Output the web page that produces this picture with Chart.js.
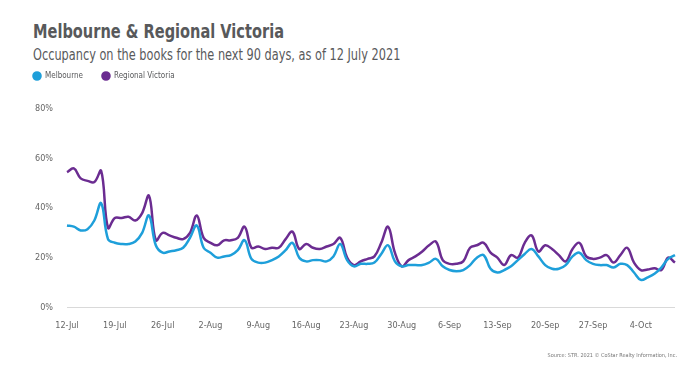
<!DOCTYPE html>
<html>
<head>
<meta charset="utf-8">
<script src="https://cdn.jsdelivr.net/npm/chart.js@4"></script>
<style>
  html, body { margin: 0; padding: 0; background: #fff; }
  body { width: 700px; height: 367px; position: relative; overflow: hidden;
         font-family: 'DejaVu Sans Condensed', sans-serif; color: #58595b; }
  #title { position: absolute; left: 33px; top: 19px; font-size: 20px; font-weight: bold;
           transform: scaleX(0.81); transform-origin: left top; white-space: nowrap; }
  #subtitle { position: absolute; left: 33px; top: 46px; font-size: 15px;
              transform: scaleX(0.84); transform-origin: left top; white-space: nowrap; }
  #source { position: absolute; right: 23px; top: 352px; font-size: 5.5px; color: #777; white-space: nowrap; }
  #wrap { position: absolute; left: 0; top: 0; width: 700px; height: 367px; }
</style>
</head>
<body>
<div id="title">Melbourne &amp; Regional Victoria</div>
<div id="subtitle">Occupancy on the books for the next 90 days, as of 12 July 2021</div>
<div id="wrap"><canvas id="occChart" width="700" height="367"></canvas></div>
<div id="source">Source: STR. 2021 © CoStar Realty Information, Inc.</div>
<script>
  const startDate = new Date(2021, 6, 12);
  const dayCount = 90;
  const tickLabels = ['12-Jul', '19-Jul', '26-Jul', '2-Aug', '9-Aug', '16-Aug', '23-Aug',
    '30-Aug', '6-Sep', '13-Sep', '20-Sep', '27-Sep', '4-Oct'];
  const yTicks = [0, 20, 40, 60, 80];

  const melbourne = [
    33, 32.5, 31, 31.5, 35, 42, 27.5, 26, 25.5, 25.5, 26.5, 30, 37, 25,
    22, 22.5, 23, 24, 28, 33, 24, 22, 20, 20.5, 21, 23, 27, 19.5,
    18, 18, 19, 20.5, 23, 26, 20, 18.5, 19, 19, 18.5, 20.5, 25.5, 19,
    16.5, 17.5, 17.5, 18, 21.5, 25, 18.5, 16.5, 17, 17, 17, 18, 19.5, 16.5,
    15, 14.5, 15, 17, 20, 21, 15.5, 14, 15, 16.5, 19, 21.5, 23.5, 20.5,
    17, 15.5, 15.5, 17, 20.5, 22, 19, 17.5, 17, 17, 16, 17.5, 17, 14,
    11, 12, 13.5, 16, 19.5, 21
  ];
  const regional = [
    54.5, 56, 52, 51, 50.5, 55, 32, 36, 36, 36.5, 35, 38, 45, 27,
    30, 29, 28, 27.5, 30, 37, 28, 26, 25, 27, 27, 28, 32.5, 24,
    24.5, 23.5, 24, 24, 27.5, 30.5, 23.5, 25.5, 24, 23.5, 24.5, 25.5, 28, 20,
    17, 18.5, 19.5, 20.5, 26, 32.5, 22, 16.5, 19, 20.5, 22.5, 25, 26.5, 19,
    17.5, 17.5, 18.5, 24, 25, 26, 22, 20, 17, 21, 20, 26, 29, 22.5,
    25, 23.5, 21, 18.5, 23.5, 26, 20.5, 19.5, 20, 21, 18, 21, 24, 18,
    15, 15.2, 15.7, 15, 20, 18
  ];

  const months = ['Jan', 'Feb', 'Mar', 'Apr', 'May', 'Jun', 'Jul', 'Aug', 'Sep', 'Oct', 'Nov', 'Dec'];
  const days = [];
  for (let i = 0; i < dayCount; i++) {
    const d = new Date(startDate.getFullYear(), startDate.getMonth(), startDate.getDate() + i);
    days.push(d.getDate() + '-' + months[d.getMonth()]);
  }

  const font = "'DejaVu Sans Condensed', sans-serif";
  const ctx = document.getElementById('occChart');

  // extra room between the legend and the plot
  const legendGap = {
    id: 'legendGap',
    beforeInit(chart) {
      const fit = chart.legend.fit;
      chart.legend.fit = function () {
        fit.bind(chart.legend)();
        this.height += 19;
      };
    }
  };

  new Chart(ctx, {
    type: 'line',
    data: {
      labels: days,
      datasets: [{
        label: 'Melbourne',
        data: melbourne,
        borderColor: '#1e9fda',
        backgroundColor: '#1e9fda',
        borderWidth: 2.5,
        pointRadius: 0,
        tension: 0.4
      }, {
        label: 'Regional Victoria',
        data: regional,
        borderColor: '#6b2c91',
        backgroundColor: '#6b2c91',
        borderWidth: 2.5,
        pointRadius: 0,
        tension: 0.4
      }]
    },
    options: {
      responsive: false,
      animation: false,
      maintainAspectRatio: false,
      layout: { padding: { left: 14, right: 25, top: 53, bottom: 31 } },
      plugins: {
        legend: {
          position: 'top',
          align: 'start',
          labels: {
            usePointStyle: true,
            pointStyle: 'circle',
            boxHeight: 5,
            boxWidth: 8,
            padding: 19,
            color: '#58595b',
            font: { family: font, size: 8 }
          }
        },
        tooltip: { enabled: false }
      },
      scales: {
        x: {
          grid: { display: false },
          border: { display: false },
          ticks: {
            autoSkip: false,
            maxRotation: 0,
            padding: 5,
            color: '#666',
            font: { family: font, size: 9 },
            callback: (v, i) => (i % 7 === 0 ? tickLabels[i / 7] : null)
          }
        },
        y: {
          min: 0,
          max: 80,
          afterFit: (scale) => { scale.width = 53; },
          afterBuildTicks: (scale) => { scale.ticks = yTicks.map(v => ({ value: v })); },
          grid: {
            drawTicks: false,
            color: (c) => (c.tick && c.tick.value === 0 ? '#d9d9d9' : 'rgba(0,0,0,0)')
          },
          border: { display: false },
          ticks: {
            padding: 14,
            color: '#666',
            font: { family: font, size: 9 },
            callback: (v) => v + '%'
          }
        }
      }
    },
    plugins: [legendGap]
  });
</script>
</body>
</html>
